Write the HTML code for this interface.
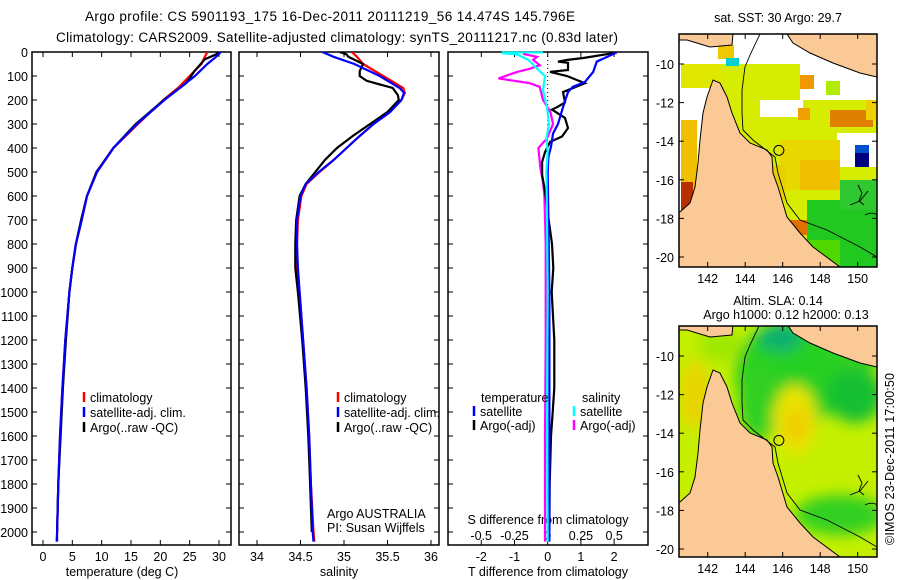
<!DOCTYPE html>
<html><head><meta charset="utf-8">
<style>
html,body{margin:0;padding:0;background:#fff;}
svg{display:block;font-family:"Liberation Sans",sans-serif;}
text{fill:#000;}
</style></head>
<body>
<svg id="fig" width="900" height="580" viewBox="0 0 900 580" xmlns="http://www.w3.org/2000/svg">
<defs>
  <clipPath id="cp1"><rect x="32" y="52" width="199" height="493"/></clipPath>
  <clipPath id="cp2"><rect x="239" y="52" width="200" height="493"/></clipPath>
  <clipPath id="cp3"><rect x="448" y="52" width="200" height="493"/></clipPath>
  <clipPath id="cm1"><rect x="679" y="34" width="198" height="233"/></clipPath>
  <clipPath id="cm2"><rect x="679" y="326" width="198" height="231"/></clipPath>
  <filter id="blur" x="-20%" y="-20%" width="140%" height="140%"><feGaussianBlur stdDeviation="7"/></filter>
</defs>
<text x="330" y="21" font-size="13.5" text-anchor="middle" textLength="490">Argo profile: CS 5901193_175 16-Dec-2011 20111219_56 14.474S 145.796E</text>
<text x="337" y="42" font-size="13.5" text-anchor="middle" textLength="562">Climatology: CARS2009. Satellite-adjusted climatology: synTS_20111217.nc (0.83d later)</text>
<g id="g1"></g>
<g id="g2"></g>
<g id="g3"></g>
<g id="m1"></g>
<g id="m2"></g>
<text transform="translate(894,459) rotate(-90)" font-size="12.5" text-anchor="middle" textLength="172">©IMOS 23-Dec-2011 17:00:50</text>
</svg>
<script>
// ---------- data ----------
const depthTicks=[0,100,200,300,400,500,600,700,800,900,1000,1100,1200,1300,1400,1500,1600,1700,1800,1900,2000];
const tempTicks=[0,5,10,15,20,25,30];
const salTicks=[34,34.5,35,35.5,36];
const salTickLabels=["34","34.5","35","35.5","36"];
const tdiffTicks=[-2,-1,0,1,2];
const sdiffTicks=[-0.5,-0.25,0,0.25,0.5];
const sdiffTickLabels=["-0.5","-0.25","0","0.25","0.5"];

const tDepth=[0,20,50,100,150,200,300,400,500,600,700,800,900,1000,1200,1400,1600,1800,2000,2040];
const tClim=[28.0,27.6,27.0,25.0,23.0,20.5,16.2,12.0,9.2,7.5,6.6,5.6,5.0,4.5,3.8,3.3,2.9,2.6,2.4,2.3];
const tSat=[30.3,29.5,28.0,25.9,23.3,20.7,16.0,12.0,9.2,7.5,6.6,5.6,5.0,4.5,3.8,3.3,2.9,2.6,2.4,2.4];
const tArgoDepth=[0,10,30,80,130,200,300,400,500,600,700,800,900,1000,1200,1400,1600,1800,2000];
const tArgo=[30.0,29.5,27.6,25.8,24.4,20.6,15.8,12.0,9.1,7.5,6.5,5.6,5.0,4.5,3.9,3.4,3.0,2.6,2.4];

const sDepth=[0,20,50,100,150,170,200,250,300,350,400,450,500,550,600,700,800,900,1000,1200,1400,1600,1800,2000,2040];
const sClim=[35.09,35.15,35.22,35.45,35.68,35.70,35.66,35.53,35.34,35.18,35.03,34.88,34.72,34.57,34.51,34.47,34.46,34.46,34.49,34.53,34.57,34.60,34.62,34.65,34.66];
const sSat=[34.75,34.88,35.12,35.41,35.64,35.69,35.66,35.53,35.34,35.18,35.03,34.88,34.71,34.56,34.50,34.46,34.46,34.47,34.49,34.53,34.57,34.60,34.62,34.64,34.65];
const sArgoDepth=[0,10,20,50,80,100,120,150,180,200,250,300,350,400,450,500,550,600,700,800,900,1000,1200,1400,1600,1800,2000];
const sArgo=[34.95,35.03,35.05,35.22,35.18,35.18,35.26,35.56,35.62,35.63,35.50,35.30,35.10,34.92,34.78,34.67,34.56,34.49,34.45,34.44,34.44,34.47,34.52,34.56,34.59,34.61,34.63];

const dTSatDepth=[2,5,40,83,125,145,167,230,300,340,395,437,500,700,1000,1400,1800,2040];
const dTSat=[2.0,2.03,1.48,1.37,1.12,0.76,0.61,0.46,0.31,0.16,0.1,0.02,0.0,0.02,0.05,0.05,0.05,0.05];
const dTArgoDepth=[5,25,33,40,45,75,83,100,130,167,210,230,240,275,317,352,375,417,458,512,580,650,690,800,900,1000,1200,1400,1500,1600,1800,2000];
const dTArgo=[1.97,1.07,0.6,0.31,0.61,0.61,0.07,0.58,1.12,0.46,0.52,0.28,0.13,0.52,0.61,0.43,0.07,-0.08,-0.17,-0.17,-0.08,-0.02,0.02,0.13,0.17,0.12,0.2,0.2,0.15,0.1,0.06,0.05];
const dSSatDepth=[5,10,33,75,100,160,230,300,360,417,500,700,1000,1500,2040];
const dSSat=[-0.345,-0.23,-0.145,-0.07,-0.02,-0.035,-0.005,0.01,-0.01,0.0,-0.01,-0.005,0.0,-0.005,0.0];
const dSArgoDepth=[8,20,33,55,70,83,110,130,145,200,250,300,360,400,485,540,600,800,1200,1600,2040];
const dSArgo=[-0.185,-0.08,-0.11,-0.06,-0.135,-0.23,-0.37,-0.135,-0.06,-0.035,0.02,0.04,-0.005,-0.07,-0.055,-0.035,-0.025,-0.015,-0.015,-0.02,-0.02];

const mapLon=[142,144,146,148,150];
const mapLat=[-10,-12,-14,-16,-18,-20];
const argoLon=145.796, argoLat=-14.474;

// ---------- helpers ----------
const NS="http://www.w3.org/2000/svg";
function mk(tag,attrs,parent){const e=document.createElementNS(NS,tag);for(const k in attrs)e.setAttribute(k,attrs[k]);parent.appendChild(e);return e;}
const yD=d=>52+d*0.24;
const xT=t=>43+t*(176/30);
const xS=s=>257+(s-34)*87;
const xDT=v=>547.7+v*33.2;
const xDS=v=>547.7+v*133;
function line(g,xs,ds,fx,col,name,clip,w){
  const pts=xs.map((v,i)=>fx(v).toFixed(1)+","+yD(ds[i]).toFixed(1)).join(" ");
  const p=mk("polyline",{points:pts,fill:"none",stroke:col,"stroke-width":w||2.2,"clip-path":"url(#"+clip+")"},g);
  
  
}
function frame(g,x,w,name){
  const r=mk("rect",{x:x,y:52,width:w,height:493,fill:"none",stroke:"#000","stroke-width":1.5},g);
  
  
  depthTicks.forEach(d=>{
    mk("line",{x1:x,x2:x+5,y1:yD(d),y2:yD(d),stroke:"#000"},g);
    mk("line",{x1:x+w-5,x2:x+w,y1:yD(d),y2:yD(d),stroke:"#000"},g);
  });
}
function txt(g,x,y,s,size,anchor,name,extra){
  const t=mk("text",Object.assign({x:x,y:y,"font-size":size,"text-anchor":anchor||"start"},extra||{}),g);
  t.textContent=s;
  
  
  return t;
}
function legend(g,x,y,col,label,name){
  const l=mk("line",{x1:x,x2:x,y1:y-10,y2:y,stroke:col,"stroke-width":2.5},g);
  
  
  txt(g,x+6,y,label,12.5,"start",name);
}

// ---------- panel 1 ----------
const g1=document.getElementById("g1");
frame(g1,32,199,"temperature-axes-frame");
depthTicks.forEach(d=>txt(g1,28,yD(d)+5,String(d),12.5,"end","depth-tick-label"));
tempTicks.forEach(t=>{
  mk("line",{x1:xT(t),x2:xT(t),y1:52,y2:57,stroke:"#000"},g1);
  mk("line",{x1:xT(t),x2:xT(t),y1:540,y2:545,stroke:"#000"},g1);
  txt(g1,xT(t),561,String(t),12.5,"middle","temperature-tick-label");
});
txt(g1,122,576,"temperature (deg C)",12.5,"middle","temperature-axis-title");
line(g1,tClim,tDepth,xT,"#ff0000","temperature-climatology-line","cp1");
line(g1,tArgo,tArgoDepth,xT,"#000000","temperature-argo-line","cp1");
line(g1,tSat,tDepth,xT,"#0000ff","temperature-satellite-line","cp1");
legend(g1,84,402,"#ff0000","climatology","legend-climatology");
legend(g1,84,417,"#0000ff","satellite-adj. clim.","legend-satellite");
legend(g1,84,432,"#000000","Argo(..raw -QC)","legend-argo");

// ---------- panel 2 ----------
const g2=document.getElementById("g2");
frame(g2,239,200,"salinity-axes-frame");
salTicks.forEach((s,i)=>{
  mk("line",{x1:xS(s),x2:xS(s),y1:52,y2:57,stroke:"#000"},g2);
  mk("line",{x1:xS(s),x2:xS(s),y1:540,y2:545,stroke:"#000"},g2);
  txt(g2,xS(s),561,salTickLabels[i],12.5,"middle","salinity-tick-label");
});
txt(g2,339,576,"salinity",12.5,"middle","salinity-axis-title");
line(g2,sClim,sDepth,xS,"#ff0000","salinity-climatology-line","cp2");
line(g2,sArgo,sArgoDepth,xS,"#000000","salinity-argo-line","cp2");
line(g2,sSat,sDepth,xS,"#0000ff","salinity-satellite-line","cp2");
legend(g2,338,402,"#ff0000","climatology","legend-climatology-2");
legend(g2,338,417,"#0000ff","satellite-adj. clim.","legend-satellite-2");
legend(g2,338,432,"#000000","Argo(..raw -QC)","legend-argo-2");
txt(g2,327,518,"Argo AUSTRALIA",12.5,"start","agency-label");
txt(g2,327,532,"PI: Susan Wijffels",12.5,"start","pi-label");

// ---------- panel 3 ----------
const g3=document.getElementById("g3");
frame(g3,448,200,"difference-axes-frame");
mk("line",{x1:547.7,x2:547.7,y1:52,y2:300,stroke:"#000","stroke-dasharray":"1,3"},g3);
tdiffTicks.forEach(t=>{
  mk("line",{x1:xDT(t),x2:xDT(t),y1:52,y2:57,stroke:"#000"},g3);
  mk("line",{x1:xDT(t),x2:xDT(t),y1:540,y2:545,stroke:"#000"},g3);
  txt(g3,xDT(t),561,String(t),12.5,"middle","tdiff-tick-label");
});
sdiffTicks.forEach((s,i)=>txt(g3,xDS(s),540,sdiffTickLabels[i],12.5,"middle","sdiff-tick-label"));
txt(g3,548,524,"S difference from climatology",12.5,"middle","sdiff-axis-title");
txt(g3,548,576,"T difference from climatology",12.5,"middle","tdiff-axis-title");
mk("line",{x1:xDS(-0.345),x2:xDS(-0.035),y1:yD(2),y2:yD(2),stroke:"#00ffff","stroke-width":2},g3);
line(g3,dSArgo,dSArgoDepth,xDS,"#ff00ff","salinity-diff-argo-line","cp3");
line(g3,dTArgo,dTArgoDepth,xDT,"#000000","temperature-diff-argo-line","cp3");
line(g3,dTSat,dTSatDepth,xDT,"#0000ff","temperature-diff-satellite-line","cp3");
line(g3,dSSat,dSSatDepth,xDS,"#00ffff","salinity-diff-satellite-line","cp3");
txt(g3,481,402,"temperature",12.5,"start","legend-temperature-heading");
legend(g3,474,416,"#0000ff","satellite","legend-t-satellite");
legend(g3,474,430,"#000000","Argo(-adj)","legend-t-argo");
txt(g3,582,402,"salinity",12.5,"start","legend-salinity-heading");
legend(g3,574,416,"#00ffff","satellite","legend-s-satellite");
legend(g3,574,430,"#ff00ff","Argo(-adj)","legend-s-argo");

// ---------- maps ----------
const lonX=lo=>707.7+(lo-142)*18.75;
const latY1=la=>64+(-10-la)*19.3;
const land=[
 "713,80 707,97 703,113 700,140 698,163 695,187 690,203 680,212 679,212 679,267 840,267 813,247 800,233 787,217 778,187 773,173 772,157 767,150 750,143 740,133 732,113 727,97 720,83",
 "679,34 733,34 732,45 710,47 687,40 679,40",
 "787,34 877,34 877,77 860,73 833,63 810,53 793,43"
];
function drawMapFrame(g,top,h,clip,title1,title2){
  const lab=mk("g",{},g);
  mapLat.forEach(la=>{
    const y=latY1(la)+(top-34);
    mk("line",{x1:679,x2:684,y1:y,y2:y,stroke:"#000"},lab);
    mk("line",{x1:872,x2:877,y1:y,y2:y,stroke:"#000"},lab);
    txt(lab,674,y+5,String(la),12.5,"end","latitude-tick-label");
  });
  mapLon.forEach(lo=>{
    const x=lonX(lo);
    mk("line",{x1:x,x2:x,y1:top,y2:top+5,stroke:"#000"},lab);
    mk("line",{x1:x,x2:x,y1:top+h-5,y2:top+h,stroke:"#000"},lab);
    txt(lab,x,top+h+16,String(lo),12.5,"middle","longitude-tick-label");
  });
  const r=mk("rect",{x:679,y:top,width:198,height:h,fill:"none",stroke:"#000","stroke-width":1.5},g);
  
  
}
function drawLand(g,dy,clip){
  const outer=mk("g",{"clip-path":"url(#"+clip+")"},g);
  const lg=mk("g",{transform:"translate(0,"+dy+")"},outer);
  land.forEach(p=>{
    const pg=mk("polygon",{points:p,fill:"#fbc996",stroke:"#000","stroke-width":1},lg);
    
    
  });
  const ct=mk("polyline",{points:"760,34 750,55 745,67 742,90 742,113 743,130 753,140 775,157 778,173 787,203 800,220 827,230 860,247 877,257",fill:"none",stroke:"#000","stroke-width":0.9},lg);
  
  
  mk("path",{d:"M858,185 l4,8 -3,8 5,4 M850,205 l10,-4 8,-10 M865,215 c8,-4 12,0 12,0",fill:"none",stroke:"#000","stroke-width":0.9},lg);
  const c=mk("circle",{cx:lonX(argoLon),cy:latY1(argoLat),r:5,fill:"none",stroke:"#000","stroke-width":1},lg);
  
  
}
// map 1 (SST)
const m1=document.getElementById("m1");
txt(m1,778,22,"sat. SST: 30 Argo: 29.7",12.5,"middle","sst-map-title");
const mc1=mk("g",{"clip-path":"url(#cm1)"},m1);
mk("rect",{x:679,y:34,width:198,height:233,fill:"#fff"},mc1);
const cells1=[
 [720,64,157,203,"#d6ec00"],[681,64,40,24,"#e0e800"],[681,120,16,90,"#f0c000"],[681,182,12,28,"#b83000"],
 [760,100,43,17,"#fff"],[800,64,77,36,"#fff"],[837,133,40,34,"#fff"],[855,145,14,22,"#000080"],[855,145,14,8,"#0050d0"],
 [780,140,60,50,"#e8d800"],[800,160,40,30,"#f0c000"],[807,200,70,67,"#20c820"],[840,180,37,30,"#30c830"],
 [830,110,43,17,"#e08000"],[798,108,12,12,"#f0a000"],[800,75,14,14,"#f09800"],[826,81,14,14,"#b0ec00"],
 [788,220,20,15,"#e07000"],[790,240,50,27,"#50d800"],[718,45,16,14,"#f0c800"],[726,58,13,8,"#00d0d0"],
 [856,44,14,10,"#0050d0"],[866,100,11,20,"#f0d000"],[760,165,25,35,"#e8d000"]
];
cells1.forEach(c=>{const r=mk("rect",{x:c[0],y:c[1],width:c[2],height:c[3],fill:c[4]},mc1);});
drawLand(m1,0,"cm1");
drawMapFrame(m1,34,233,"cm1");
// map 2 (SLA)
const m2=document.getElementById("m2");
txt(m2,778,305,"Altim. SLA: 0.14",12.5,"middle","sla-map-title-1");
txt(m2,786,319,"Argo h1000: 0.12 h2000: 0.13",12.5,"middle","sla-map-title-2");
const mc2=mk("g",{"clip-path":"url(#cm2)"},m2);
mk("rect",{x:679,y:326,width:198,height:231,fill:"#c4f000"},mc2);
const bl=mk("g",{filter:"url(#blur)"},mc2);
const blobs=[
 [790,375,55,55,"#28d020"],[760,400,22,40,"#30d020"],[855,395,28,28,"#18c030"],[860,345,30,25,"#30d020"],
 [780,338,22,14,"#10b070"],[795,420,22,35,"#eae400"],[797,425,12,18,"#f0cc00"],[695,395,16,35,"#e8d400"],
 [840,515,45,20,"#30d020"],[720,345,22,18,"#a0e800"]
];
blobs.forEach(b=>{const e=mk("ellipse",{cx:b[0],cy:b[1],rx:b[2],ry:b[3],fill:b[4]},bl);});
drawLand(m2,290,"cm2");
drawMapFrame(m2,326,231,"cm2");
</script>
</body></html>
